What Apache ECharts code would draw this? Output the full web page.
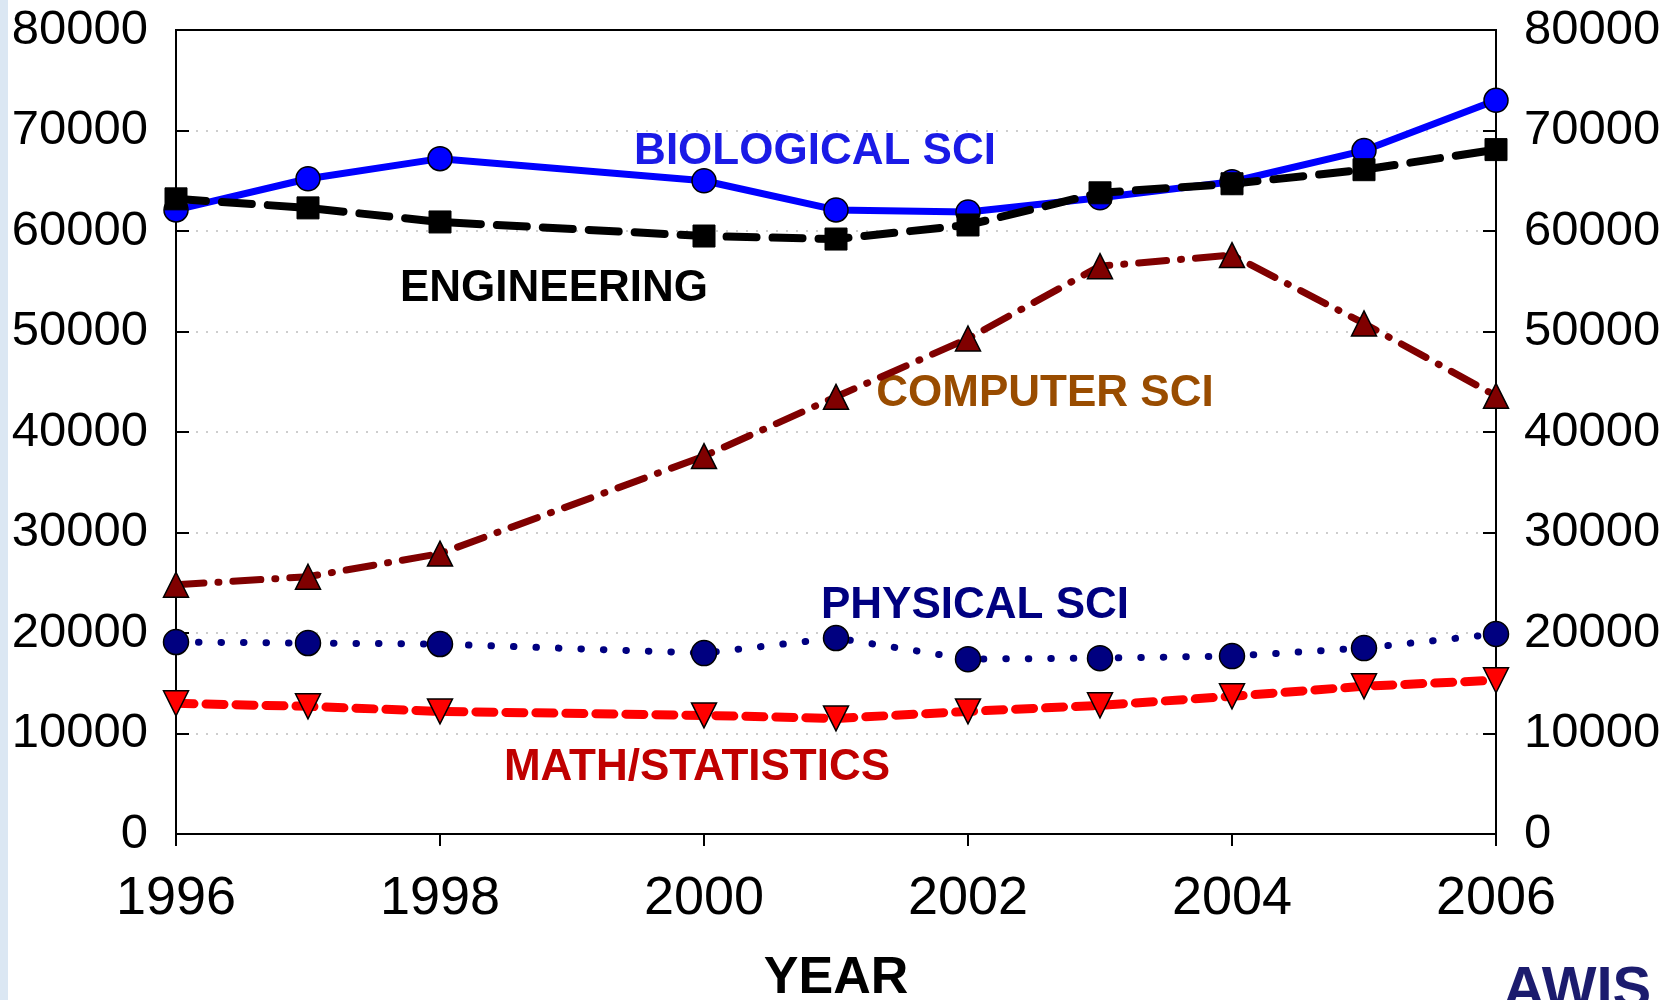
<!DOCTYPE html>
<html>
<head>
<meta charset="utf-8">
<title>Degrees by field</title>
<script src="https://cdn.jsdelivr.net/npm/echarts@6/dist/echarts.min.js"></script>
<style>
  html, body { margin: 0; padding: 0; background: #fff; }
  #chart { width: 1670px; height: 1000px; }
</style>
</head>
<body>
<div id="chart"></div>
<script>
// values (no 1999 point in the source)
const years = [1996, 1997, 1998, 2000, 2001, 2002, 2003, 2004, 2005, 2006];
const biological = [62100, 65200, 67200, 65000, 62100, 61900, 63300, 64900, 68000, 73000];
const engineering = [63200, 62300, 60900, 59500, 59200, 60600, 63800, 64700, 66100, 68100];
const computer = [24800, 25600, 27900, 37600, 43500, 49300, 56500, 57600, 50800, 43600];
const physical = [19100, 19000, 18900, 18000, 19500, 17400, 17500, 17700, 18500, 19900];
const mathStats = [13000, 12700, 12200, 11800, 11500, 12200, 12800, 13700, 14700, 15300];

const pairs = (vals) => years.map((y, i) => [y, vals[i]]);

const chart = echarts.init(document.getElementById("chart"));
const font = "'Liberation Sans', Arial, sans-serif";

// y axis shared settings (left and right look the same)
const yAxisBase = {
  type: "value",
  min: 0,
  max: 80000,
  interval: 10000,
  axisLine: { show: true, lineStyle: { color: "#000", width: 2 } },
  axisTick: { show: true, inside: true, length: 13, lineStyle: { color: "#000", width: 2 } },
  axisLabel: { color: "#000", fontSize: 49, fontFamily: font, margin: 28, formatter: (v) => String(v) },
};

const option = {
  animation: false,
  backgroundColor: "#fff",
  grid: {
    left: 176,
    right: 174,
    top: 30,
    bottom: 166,
    show: true,
    borderColor: "#000",
    borderWidth: 2,
    z: 3,
  },
  xAxis: {
    type: "value",
    min: 1996,
    max: 2006,
    interval: 2,
    axisLine: { show: true, onZero: false, lineStyle: { color: "#000", width: 2 } },
    axisTick: { show: true, length: 12, lineStyle: { color: "#000", width: 2 } },
    axisLabel: { color: "#000", fontSize: 54, fontFamily: font, margin: 38, formatter: (v) => String(v) },
    splitLine: { show: false },
  },
  yAxis: [
    Object.assign({}, yAxisBase, {
      position: "left",
      splitLine: {
        show: true,
        showMinLine: false,
        showMaxLine: false,
        lineStyle: { color: "#bdbdbd", type: [2, 8], width: 1.5 },
      },
    }),
    Object.assign({}, yAxisBase, {
      position: "right",
      splitLine: { show: false },
    }),
  ],
  series: [
    {
      name: "BIOLOGICAL SCI",
      type: "line",
      data: pairs(biological),
      symbol: "circle",
      symbolSize: 24,
      lineStyle: { color: "#0000ff", width: 7 },
      itemStyle: { color: "#0000ff", borderColor: "#000", borderWidth: 1.5 },
    },
    {
      name: "ENGINEERING",
      type: "line",
      data: pairs(engineering),
      symbol: "rect",
      symbolSize: 22,
      lineStyle: { color: "#000", width: 8, type: [30, 16], cap: "round" },
      itemStyle: { color: "#000", borderColor: "#000", borderWidth: 1 },
    },
    {
      name: "COMPUTER SCI",
      type: "line",
      data: pairs(computer),
      symbol: "triangle",
      symbolSize: 25,
      lineStyle: { color: "#800000", width: 7, type: [28, 14, 1, 14], cap: "round" },
      itemStyle: { color: "#800000", borderColor: "#000", borderWidth: 1.5 },
    },
    {
      name: "PHYSICAL SCI",
      type: "line",
      data: pairs(physical),
      symbol: "circle",
      symbolSize: 25,
      lineStyle: { color: "#000080", width: 7, type: [0.5, 22], cap: "round" },
      itemStyle: { color: "#000080", borderColor: "#000", borderWidth: 1.5 },
    },
    {
      name: "MATH/STATISTICS",
      type: "line",
      data: pairs(mathStats),
      symbol: "triangle",
      symbolRotate: 180,
      symbolSize: 25,
      lineStyle: { color: "#ff0000", width: 9, type: [18, 12], cap: "round" },
      itemStyle: { color: "#ff0000", borderColor: "#000", borderWidth: 1.5 },
    },
  ],
  graphic: [
    // pale blue strip on the left edge
    { type: "rect", left: 0, top: 0, shape: { width: 8, height: 1000 }, style: { fill: "#dbe7f3" }, silent: true },
    { type: "text", x: 815, y: 152, style: { text: "BIOLOGICAL SCI", fill: "#1a1ae6", font: "bold 44px " + font, align: "center", verticalAlign: "middle" } },
    { type: "text", x: 554, y: 289, style: { text: "ENGINEERING", fill: "#000", font: "bold 44px " + font, align: "center", verticalAlign: "middle" } },
    { type: "text", x: 1045, y: 394, style: { text: "COMPUTER SCI", fill: "#994c00", font: "bold 44px " + font, align: "center", verticalAlign: "middle" } },
    { type: "text", x: 975, y: 606, style: { text: "PHYSICAL SCI", fill: "#000080", font: "bold 44px " + font, align: "center", verticalAlign: "middle" } },
    { type: "text", x: 697, y: 768, style: { text: "MATH/STATISTICS", fill: "#c00000", font: "bold 44px " + font, align: "center", verticalAlign: "middle" } },
    { type: "text", x: 836, y: 979, style: { text: "YEAR", fill: "#000", font: "bold 52px " + font, align: "center", verticalAlign: "middle" } },
    { type: "text", x: 1503, y: 962, style: { text: "AWIS", fill: "#1c1c6e", font: "bold 58px " + font, align: "left", verticalAlign: "top" } },
  ],
};

chart.setOption(option);
</script>
</body>
</html>
